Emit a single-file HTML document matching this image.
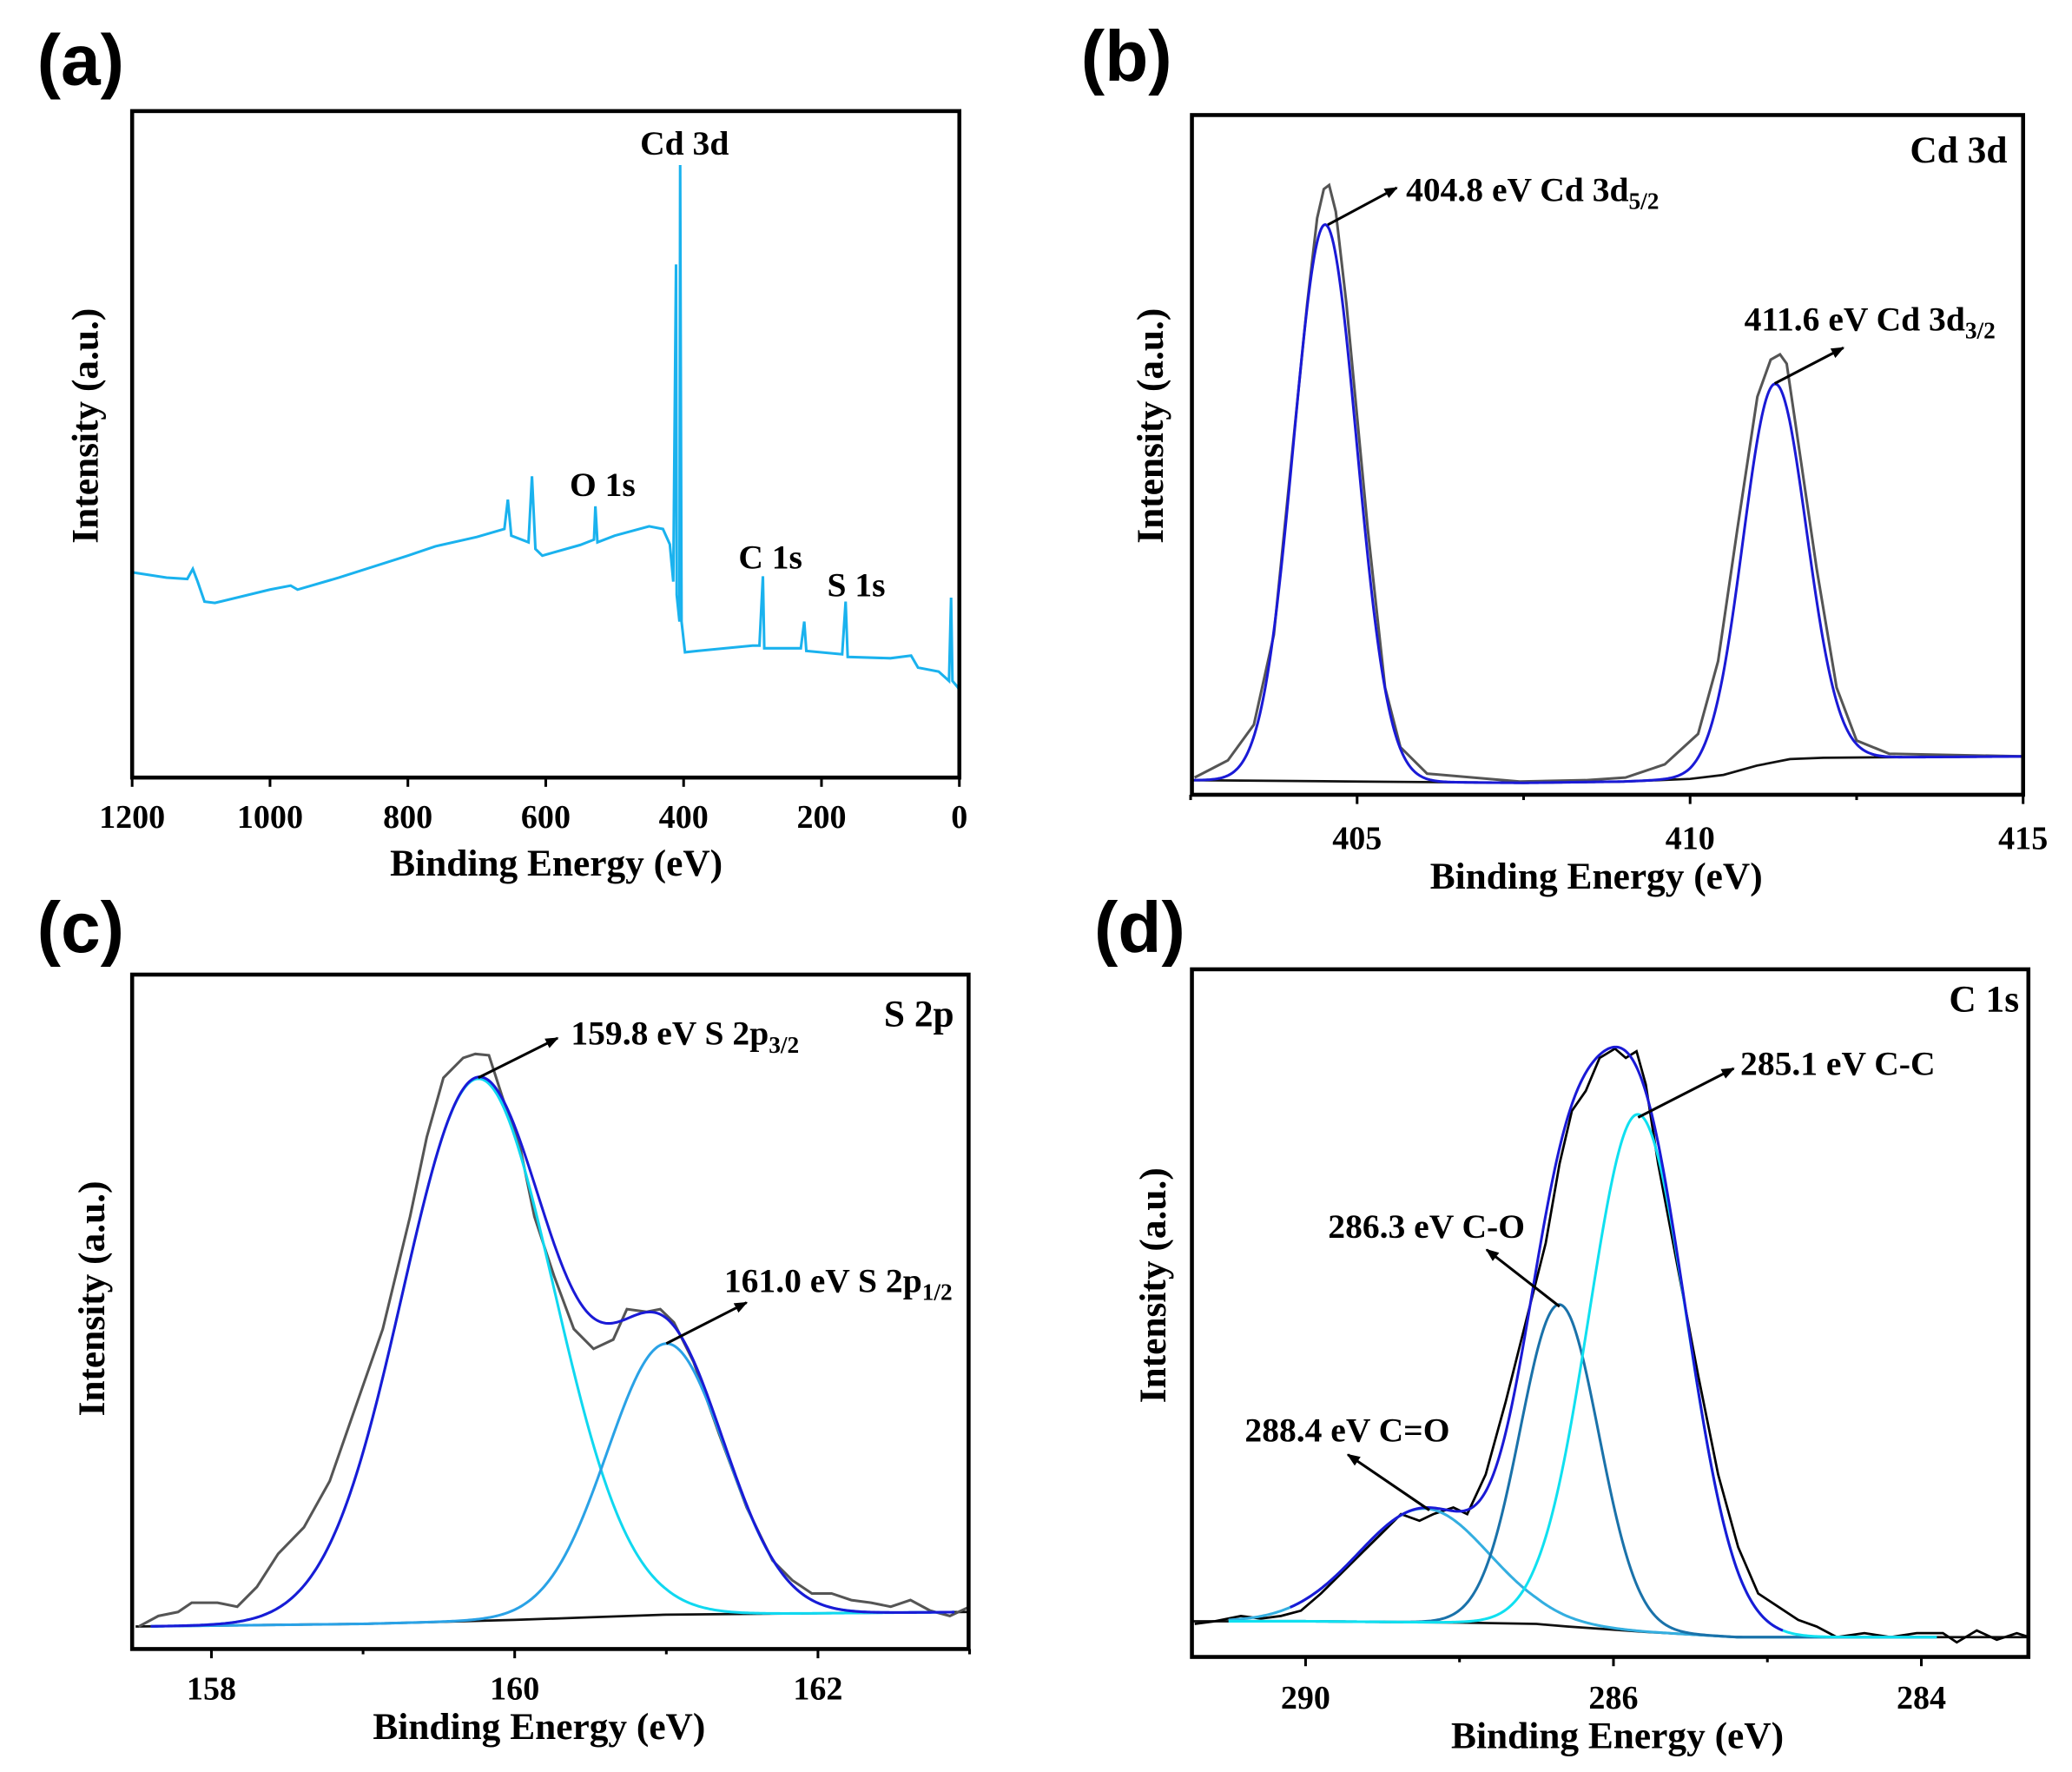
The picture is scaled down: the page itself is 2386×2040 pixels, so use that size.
<!DOCTYPE html>
<html><head><meta charset="utf-8"><style>
html,body{margin:0;padding:0;background:#fff;}
svg{display:block;}
text{font-family:"Liberation Serif",serif;font-weight:bold;fill:#000;}
.pl{font-family:"Liberation Sans",sans-serif;font-size:54px;}
.tk{font-size:25px;}
.ti{font-size:28.5px;}
.an{font-size:26px;}
</style></head><body>
<svg id="fig" width="2386" height="2040" viewBox="0 0 1568 1340" preserveAspectRatio="none" xmlns="http://www.w3.org/2000/svg">
<defs><marker id="ah" viewBox="0 0 10 10" refX="9" refY="5" markerWidth="10" markerHeight="10" orient="auto" markerUnits="userSpaceOnUse"><path d="M0,1 L10,5 L0,9 z" fill="#000"/></marker></defs>
<g id="root"></g>
</svg>
<script>
// ---------- Panel a data (survey) ----------
const aEnergy=[1200,1150,1120,1112,1105,1095,1080,1000,970,960,900,800,760,700,660,655,650,625,620,615,605,550,530,528,525,500,450,430,420,415,411,410,406,405,403,398,380,300,290,285,283,230,225,222,170,165,162,100,70,60,30,15,12,10,2,0];
const aIntensity=[30.8,30.0,29.8,31.3,29.4,26.4,26.2,28.2,28.8,28.2,30.0,33.3,34.7,36.1,37.3,41.7,36.3,35.3,45.2,34.3,33.3,34.9,35.7,40.7,35.3,36.3,37.7,37.3,35.0,29.4,77.0,27.4,23.4,91.9,23.4,18.8,19.0,19.8,19.8,30.2,19.4,19.4,23.4,19.0,18.5,26.4,18.1,17.9,18.3,16.5,15.9,14.5,27.0,14.5,13.5,13.1];
const aTicks=[1200,1000,800,600,400,200,0];
// ---------- Panel b data (Cd 3d) ----------
const bEnergy=[402.56,403.06,403.45,403.75,404.05,404.25,404.40,404.50,404.58,404.68,404.84,405.16,405.42,405.65,406.05,407.44,408.43,409.03,409.62,410.12,410.42,410.71,411.01,411.21,411.35,411.45,411.61,411.90,412.20,412.50,412.99,415.0];
const bIntensity=[13,26,53,121,271,371,436,458,461,441,371,201,81,36,16,10,11,13,23,46,101,201,301,329,333,326,271,171,81,41,31,29];
const bBaseE=[402.5,405,407.5,409,410,410.5,411,411.5,412,415];
const bBaseI=[11,10,9,10,12,15,22,27,28,29];
const bCenters=[404.52,411.27];
const bHeights=[421,286];
const bFwhm=[1.12,1.12];
const bTicks=[405,410,415];
// ---------- Panel c data (S 2p) ----------
const cEnergy=[157.52,157.65,157.78,157.87,158.04,158.17,158.30,158.44,158.61,158.78,159.13,159.31,159.42,159.53,159.66,159.74,159.83,159.92,160.04,160.13,160.26,160.39,160.52,160.65,160.74,160.87,160.96,161.05,161.18,161.35,161.53,161.70,161.83,161.96,162.09,162.22,162.35,162.48,162.61,162.74,162.87,163.0];
const cIntensity=[17,25,28,35,35,32,47,72,92,127,242,327,387,432,447,450,449,417,377,327,282,242,227,234,257,255,257,247,217,162,107,67,52,42,42,37,35,32,37,29,25,32];
const cBaseE=[157.5,159,160,160.5,161,162,163];
const cBaseI=[17,19,22,24,26,27,28];
const cCenters=[159.76,161.0];
const cHeights=[410,205];
const cFwhm=[1.18,0.92];
const cTicks=[158,160,162];
// ---------- Panel d data (C 1s) ----------
const dEnergy=[288.72,288.59,288.42,288.29,288.16,288.03,287.90,287.77,287.64,287.51,287.38,287.26,287.17,287.04,286.95,286.83,286.70,286.57,286.44,286.35,286.27,286.18,286.09,285.99,285.92,285.85,285.79,285.71,285.58,285.45,285.32,285.19,285.06,284.93,284.80,284.68,284.55,284.37,284.20,284.03,283.86,283.77,283.64,283.51,283.38,283.30];
const dIntensity=[25,27,31,29,31,35,48,63,78,93,108,103,108,113,108,138,193,253,313,373,413,428,453,460,453,458,433,373,293,213,138,83,48,38,28,23,15,18,15,18,18,11,20,13,18,15];
const dBaseE=[288.74,288,287,286.5,286.3,285.8,285.2,284,283.3];
const dBaseI=[27,27,26,25,23,19,15,15,15];
const dCenters=[287.23,286.35,285.84];
const dHeights=[86,243,391];
const dFwhm=[1.0,0.6,0.75];
const dTicks=[288,286,284];
const dTickLabels=['290','286','284'];

const NS="http://www.w3.org/2000/svg";
const root=document.getElementById('root');
function el(tag,attrs,parent,txt){const e=document.createElementNS(NS,tag);for(const k in attrs)e.setAttribute(k,attrs[k]);if(txt!==undefined)e.textContent=txt;(parent||root).appendChild(e);return e;}
function lin(d0,d1,r0,r1){return v=>r0+(v-d0)/(d1-d0)*(r1-r0);}
function interp(xs,ys,x){
  for(let i=0;i<xs.length-1;i++){const a=xs[i],b=xs[i+1];if((x>=Math.min(a,b))&&(x<=Math.max(a,b))){const t=(x-a)/(b-a||1);return ys[i]+t*(ys[i+1]-ys[i]);}}
  const asc=xs[0]<xs[xs.length-1];const lo=Math.min(xs[0],xs[xs.length-1]);
  if(x<lo)return asc?ys[0]:ys[ys.length-1];return asc?ys[ys.length-1]:ys[0];
}
function gauss(e,c,h,w){return h*Math.exp(-4*Math.LN2*Math.pow((e-c)/w,2));}
function pathFrom(xs,ys,sx,sy){return xs.map((v,i)=>(i?'L':'M')+sx(v).toFixed(2)+','+sy(ys[i]).toFixed(2)).join(' ');}
function frame(g,x0,y0,x1,y1){const r=el('rect',{x:x0,y:y0,width:x1-x0,height:y1-y0,fill:'none',stroke:'#000','stroke-width':3},g);}
function xticks(g,ticks,labels,minor,sx,y1,ly){
  ticks.forEach((t,i)=>{el('line',{x1:sx(t),x2:sx(t),y1:y1,y2:y1+7,stroke:'#000','stroke-width':2},g);
    const tx=el('text',{x:sx(t),y:ly,'text-anchor':'middle',class:'tk'},g,labels?labels[i]:String(t));
    
    });
  minor.forEach(t=>el('line',{x1:sx(t),x2:sx(t),y1:y1,y2:y1+4,stroke:'#000','stroke-width':2},g));
}
function titles(g,cx,ty,yx,yy){
  const xt=el('text',{x:cx,y:ty,'text-anchor':'middle',class:'ti'},g,'Binding Energy (eV)');
  
  
  const yt=el('text',{x:yx,y:yy,'text-anchor':'middle',class:'ti',transform:`rotate(-90 ${yx} ${yy})`},g,'Intensity (a.u.)');
  
  
}
function arrow(g,x1,y1,x2,y2){const a=el('line',{x1,y1,x2,y2,stroke:'#000','stroke-width':2,'marker-end':'url(#ah)'},g);}
function annot(g,x,y,main,sub,anchor){const t=el('text',{x,y,class:'an','text-anchor':anchor||'start'},g,main);
  if(sub){el('tspan',{'font-size':'18','dy':'6'},t,sub);}
  return t;}
function panelLabel(x,y,s){const t=el('text',{x,y,class:'pl'},root,s);}
function sample(lo,hi,n){const a=[];for(let i=0;i<=n;i++)a.push(lo+(hi-lo)*i/n);return a;}

// ===== Panel a =====
{const g=el('g',{});
 const sx=lin(1200,0,100,726), sy=lin(0,100,588,84);
 const p=el('path',{d:pathFrom(aEnergy,aIntensity,sx,sy),fill:'none',stroke:'#1ab2ee','stroke-width':2},g);
 
 frame(g,100,84,726,588);xticks(g,aTicks,null,[],sx,588,626);titles(g,421,662,74,322);
 [['Cd 3d',518,117],['O 1s',456,375],['C 1s',583,430],['S 1s',648,451]].forEach(l=>{const t=el('text',{x:l[1],y:l[2],'text-anchor':'middle',class:'an'},g,l[0]);});
 panelLabel(28,64,'(a)');}

// ===== Panel b =====
{const g=el('g',{});
 const sx=lin(405,410,1027,1279), sy=lin(0,514,601,87);
 const bl=el('path',{d:pathFrom(bBaseE,bBaseI,sx,sy),fill:'none',stroke:'#111','stroke-width':1.8},g);
 const raw=el('path',{d:pathFrom(bEnergy,bIntensity,sx,sy),fill:'none',stroke:'#555','stroke-width':2},g);
 const es=sample(402.55,415,600);const ev=es.map(e=>interp(bBaseE,bBaseI,e)+bCenters.reduce((s,c,i)=>s+gauss(e,c,bHeights[i],bFwhm[i]),0));
 const env=el('path',{d:pathFrom(es,ev,sx,sy),fill:'none',stroke:'#1a1ad6','stroke-width':2},g);
 frame(g,902,87,1531,601);xticks(g,bTicks,null,[402.5,407.5,412.5],sx,601,642);titles(g,1208,672,880,322);
 const t=el('text',{x:1519,y:123,'text-anchor':'end',class:'ti','font-size':'33'},g,'Cd 3d');
 arrow(g,sx(bCenters[0])+2,sy(bHeights[0]+10),1057,142);annot(g,1064,152,'404.8 eV Cd 3d','5/2');
 arrow(g,sx(bCenters[1]),sy(bHeights[1]+25),1395,263);annot(g,1320,250,'411.6 eV Cd 3d','3/2');
 panelLabel(818,61,'(b)');}

// ===== Panel c =====
{const g=el('g',{});
 const sx=lin(158,160,160,389.5), sy=lin(0,510,1247,737);
 const bl=el('path',{d:pathFrom(cBaseE,cBaseI,sx,sy),fill:'none',stroke:'#111','stroke-width':1.8},g);
 const raw=el('path',{d:pathFrom(cEnergy,cIntensity,sx,sy),fill:'none',stroke:'#555','stroke-width':2},g);
 const es=sample(157.6,162.9,500);const cols=['#10d8f0','#2aa2e6'];
 cCenters.forEach((c,i)=>{const v=es.map(e=>interp(cBaseE,cBaseI,e)+gauss(e,c,cHeights[i],cFwhm[i]));const p=el('path',{d:pathFrom(es,v,sx,sy),fill:'none',stroke:cols[i],'stroke-width':2},g);});
 const ev=es.map(e=>interp(cBaseE,cBaseI,e)+cCenters.reduce((s,c,i)=>s+gauss(e,c,cHeights[i],cFwhm[i]),0));
 const env=el('path',{d:pathFrom(es,ev,sx,sy),fill:'none',stroke:'#1a1ad6','stroke-width':2},g);
 frame(g,100,737,733,1247);xticks(g,cTicks,null,[159,161,163],sx,1247,1285);titles(g,408,1315,79,982);
 const t=el('text',{x:722,y:776,'text-anchor':'end',class:'ti','font-size':'33'},g,'S 2p');
 arrow(g,sx(cCenters[0]),sy(cHeights[0]+22),422,785);annot(g,432,790,'159.8 eV S 2p','3/2');
 arrow(g,sx(cCenters[1]),sy(cHeights[1]+26),565,985);annot(g,548,977,'161.0 eV S 2p','1/2');
 panelLabel(28,720,'(c)');}

// ===== Panel d =====
{const g=el('g',{});
 const sx=lin(288,286,988,1221), sy=lin(0,520,1253,733);
 const bl=el('path',{d:pathFrom(dBaseE,dBaseI,sx,sy),fill:'none',stroke:'#111','stroke-width':1.8},g);
 const raw=el('path',{d:pathFrom(dEnergy,dIntensity,sx,sy),fill:'none',stroke:'#000','stroke-width':1.8},g);
 const es=sample(288.5,283.9,500);const cols=['#33aee0','#1a72aa','#10e0f0'];
 dCenters.forEach((c,i)=>{const v=es.map(e=>interp(dBaseE,dBaseI,e)+gauss(e,c,dHeights[i],dFwhm[i]));const p=el('path',{d:pathFrom(es,v,sx,sy),fill:'none',stroke:cols[i],'stroke-width':2},g);});
 const ee=sample(288.1,284.9,400);
 const ev=ee.map(e=>interp(dBaseE,dBaseI,e)+dCenters.reduce((s,c,i)=>s+gauss(e,c,dHeights[i],dFwhm[i]),0));
 const env=el('path',{d:pathFrom(ee,ev,sx,sy),fill:'none',stroke:'#1a1ad6','stroke-width':2},g);
 frame(g,902,733,1535,1253);xticks(g,dTicks,dTickLabels,[287,285],sx,1253,1292);titles(g,1224,1322,882,972);
 const t=el('text',{x:1528,y:765,'text-anchor':'end',class:'ti','font-size':'33'},g,'C 1s');
 arrow(g,sx(dCenters[2]),sy(dHeights[2]+17),1312,808);annot(g,1317,813,'285.1 eV C-C');
 arrow(g,sx(dCenters[1]),sy(dHeights[1]+22),1125,945);annot(g,1005,936,'286.3 eV C-O');
 arrow(g,sx(dCenters[0])+4,sy(dHeights[0]+25),1020,1100);annot(g,942,1090,'288.4 eV C=O');
 panelLabel(828,720,'(d)');}
</script>
</body></html>
